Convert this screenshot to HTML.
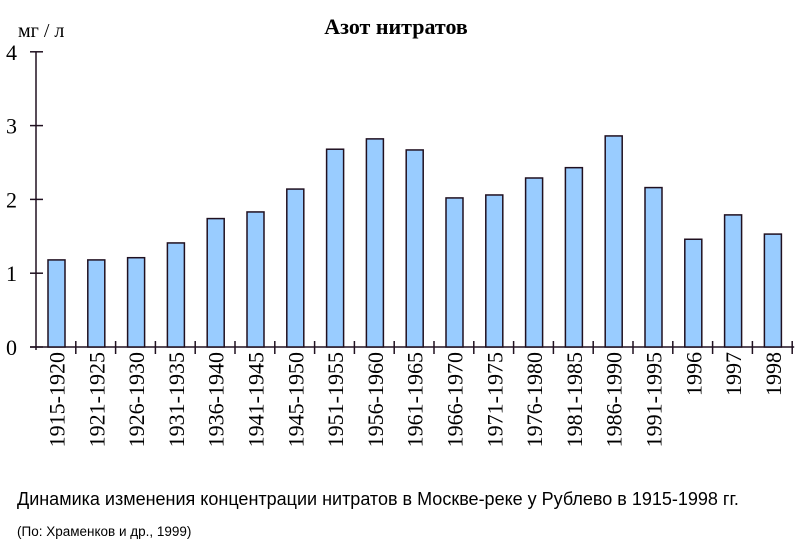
<!DOCTYPE html>
<html><head><meta charset="utf-8"><style>
body{margin:0;background:#fff;width:800px;height:549px;overflow:hidden}
</style></head><body>
<svg width="800" height="549" xmlns="http://www.w3.org/2000/svg">
<text x="396" y="34" text-anchor="middle" font-family="Liberation Serif, serif" font-weight="bold" font-size="22">Азот нитратов</text>
<text x="18" y="37" font-family="Liberation Serif, serif" font-size="20">мг / л</text>
<g id="axes"></g><g id="bars"></g><g id="labels"></g>
<text x="17" y="505" font-family="Liberation Sans, sans-serif" font-size="18">Динамика изменения концентрации нитратов в Москве-реке у Рублево в 1915-1998 гг.</text>
<text x="17" y="536" font-family="Liberation Sans, sans-serif" font-size="13.5">(По: Храменков и др., 1999)</text>
</svg>
<script>
const categories=["1915-1920","1921-1925","1926-1930","1931-1935","1936-1940","1941-1945","1945-1950","1951-1955","1956-1960","1961-1965","1966-1970","1971-1975","1976-1980","1981-1985","1986-1990","1991-1995","1996","1997","1998"];
const values=[1.18,1.18,1.21,1.41,1.74,1.83,2.14,2.68,2.82,2.67,2.02,2.06,2.29,2.43,2.86,2.16,1.46,1.79,1.53];
const yTicks=[0,1,2,3,4];
const NS="http://www.w3.org/2000/svg";
const x0=36,slot=39.8,y0=347,unit=73.8;
const yS=v=>y0-v*unit;
const xS=i=>x0+i*slot;
function mk(t,a,p){const e=document.createElementNS(NS,t);for(const k in a)e.setAttribute(k,a[k]);p.appendChild(e);return e;}
const ax=document.getElementById('axes'),bg=document.getElementById('bars'),lg=document.getElementById('labels');
const yl=mk('line',{x1:x0,y1:yS(4),x2:x0,y2:y0+3,stroke:'#201020','stroke-width':1.5},ax);


const xl=mk('line',{x1:x0-6,y1:y0,x2:xS(categories.length)+2,y2:y0,stroke:'#201020','stroke-width':1.5},ax);


yTicks.forEach(v=>{
 const t=mk('line',{x1:x0-6,y1:yS(v),x2:x0+7,y2:yS(v),stroke:'#201020','stroke-width':1.5},ax);
 
 
 const l=mk('text',{x:6,y:yS(v)+8,'font-family':'Liberation Serif, serif','font-size':22},ax);
 l.textContent=v;
 
 
});
for(let i=1;i<=categories.length;i++){
 const t=mk('line',{x1:xS(i),y1:y0-6,x2:xS(i),y2:y0+7,stroke:'#201020','stroke-width':1.5},ax);
 
 
}
categories.forEach((c,i)=>{
 const r=mk('rect',{x:xS(i)+12,y:yS(values[i]),width:17,height:values[i]*unit,fill:'#99ccff',stroke:'#201020','stroke-width':1.5},bg);
 
 
 const cx=xS(i)+20.5+8,ty=352;
 const l=mk('text',{x:cx,y:ty,transform:`rotate(-90 ${cx} ${ty})`,'text-anchor':'end','font-family':'Liberation Serif, serif','font-size':22},lg);
 l.textContent=c;
 
 
});
</script>
</body></html>
